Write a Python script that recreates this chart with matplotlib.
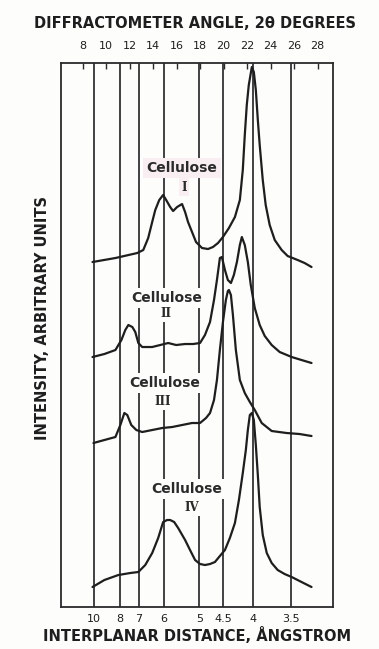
import numpy as np
import matplotlib.pyplot as plt

# wavelength that fits the drawn d scale against the 2-theta scale
WAVELENGTH = 1.56  # angstrom

two_theta_ticks = [8, 10, 12, 14, 16, 18, 20, 22, 24, 26, 28]
d_ticks = [10, 8, 7, 6, 5, 4.5, 4, 3.5]
d_labels = ['10', '8', '7', '6', '5', '4.5', '4', '3.5']

# traces: 2-theta (degrees) and intensity (arbitrary units)
cell1_tt = [8.85, 10.80, 12.66, 13.17, 13.59, 13.93, 14.19, 14.53, 14.86, 15.12,
            15.46, 15.71, 16.05, 16.47, 16.73, 16.98, 17.32, 17.66, 18.17, 18.68,
            19.10, 19.53, 19.95, 20.46, 20.97, 21.39, 21.64, 21.81, 21.98, 22.15,
            22.41, 22.58, 22.75, 22.92, 23.08, 23.34, 23.59, 23.93, 24.36, 24.95,
            25.46, 26.31, 26.90, 27.49]
cell1_int = [345, 349, 354, 357, 369, 385, 397, 407, 412, 407,
             400, 396, 400, 403, 395, 385, 375, 365, 359, 358,
             360, 364, 370, 379, 390, 407, 437, 472, 502, 522,
             540, 535, 517, 487, 462, 427, 402, 382, 367, 357,
             351, 347, 344, 340]

cell2_tt = [8.85, 9.86, 10.80, 11.31, 11.64, 11.90, 12.24, 12.49, 12.75, 13.08,
            13.93, 14.61, 15.29, 15.97, 16.73, 17.41, 18.00, 18.42, 18.85, 19.19,
            19.44, 19.69, 19.86, 20.12, 20.37, 20.63, 20.88, 21.14, 21.39, 21.56,
            21.81, 22.07, 22.32, 22.66, 23.08, 23.51, 24.10, 24.78, 25.80, 26.64,
            27.49]
cell2_int = [250, 253, 257, 267, 277, 282, 280, 275, 264, 260,
             260, 262, 264, 262, 263, 263, 264, 272, 285, 307,
             327, 349, 350, 337, 327, 324, 332, 345, 362, 370,
             362, 345, 322, 299, 282, 271, 262, 255, 250, 247,
             244]

cell3_tt = [8.93, 9.86, 10.80, 11.22, 11.56, 11.81, 12.15, 12.58, 13.08, 13.93,
            14.78, 15.63, 16.47, 17.32, 18.00, 18.51, 18.85, 19.19, 19.44, 19.69,
            19.95, 20.20, 20.37, 20.46, 20.63, 20.80, 21.05, 21.39, 21.81, 22.24,
            22.66, 23.25, 24.10, 25.37, 26.47, 27.49]
cell3_int = [164, 167, 170, 182, 194, 192, 182, 177, 175, 177,
             179, 180, 182, 184, 184, 189, 194, 207, 227, 257,
             285, 307, 316, 317, 312, 292, 257, 227, 214, 205,
             197, 184, 176, 174, 173, 171]

cell4_tt = [8.85, 9.86, 11.05, 12.07, 12.75, 13.34, 13.93, 14.44, 14.86, 15.20,
            15.46, 15.80, 16.14, 16.73, 17.15, 17.58, 18.00, 18.42, 18.85, 19.27,
            19.69, 20.12, 20.54, 20.97, 21.31, 21.64, 21.90, 22.07, 22.24, 22.41,
            22.58, 22.75, 22.92, 23.08, 23.34, 23.68, 24.10, 24.61, 25.20, 25.80,
            26.64, 27.49]
cell4_int = [20, 27, 32, 34, 35, 42, 54, 69, 85, 87,
             87, 85, 79, 67, 57, 47, 43, 42, 43, 45,
             51, 57, 69, 84, 107, 134, 157, 177, 192, 194,
             187, 162, 132, 100, 72, 54, 44, 37, 33, 30,
             25, 20]

names = ['I', 'II', 'III', 'IV']


def d_to_two_theta(d):
    d = np.asarray(d, dtype=float)
    return np.degrees(2 * np.arcsin(WAVELENGTH / (2 * d)))


ink = '#1e1e1e'
paper = '#fdfdfb'

fig = plt.figure(figsize=(3.79, 6.49), dpi=100, facecolor=paper)
ax = fig.add_axes([0.161, 0.0647, 0.7177, 0.8382], facecolor=paper)
ax.set_xlim(6.17, 29.32)
ax.set_ylim(0, 544)

# grid lines at the interplanar distances
for x in d_to_two_theta(d_ticks):
    ax.axvline(x, color='#333333', lw=1.3, zorder=1)

for tt, inten in [(cell1_tt, cell1_int), (cell2_tt, cell2_int),
                  (cell3_tt, cell3_int), (cell4_tt, cell4_int)]:
    ax.plot(tt, inten, color=ink, lw=1.6, solid_joinstyle='round',
            solid_capstyle='round', zorder=4)

# curve labels, with a paper coloured patch that breaks the grid lines
label_xy = [(16.47, 439, 16.64, 420), (15.19, 309, 15.11, 294),
            (15.02, 224, 14.85, 206), (16.89, 118, 17.32, 100)]
for name, (x1, y1, x2, y2) in zip(names, label_xy):
    bg = '#f9eef2' if name == 'I' else paper
    ax.text(x1, y1, 'Cellulose', ha='center', va='center', fontsize=10,
            fontweight='bold', color='#2a2a2a', zorder=3,
            bbox=dict(facecolor=bg, edgecolor='none', pad=2.5))
    ax.text(x2, y2, name, ha='center', va='center', fontsize=8.5,
            family='DejaVu Serif', fontweight='bold', color='#2a2a2a', zorder=3,
            bbox=dict(facecolor=bg, edgecolor='none', pad=1.5))

ax.set_xticks(d_to_two_theta(d_ticks))
ax.set_xticklabels(d_labels)
ax.tick_params(axis='x', length=0, pad=5, labelsize=8, labelcolor=ink)
ax.set_yticks([])
for s in ax.spines.values():
    s.set_linewidth(1.3)
    s.set_color('#2a2a2a')

top = ax.secondary_xaxis('top')
top.set_xticks(two_theta_ticks)
top.tick_params(direction='in', length=4, width=1, pad=9, labelsize=8,
                labelcolor=ink, color='#2a2a2a')
top.spines['top'].set_visible(False)

title_kw = dict(fontsize=10.5, fontweight='bold', color=ink)
fig.text(0.515, 0.964, 'DIFFRACTOMETER ANGLE, 2θ DEGREES', ha='center',
         va='center', **title_kw)
fig.text(0.52, 0.021, 'INTERPLANAR DISTANCE, ÅNGSTROM', ha='center',
         va='center', **title_kw)
fig.text(0.111, 0.51, 'INTENSITY, ARBITRARY UNITS', ha='center',
         va='center', rotation=90, **title_kw)

fig.savefig('out.png', dpi=100, facecolor=paper)
